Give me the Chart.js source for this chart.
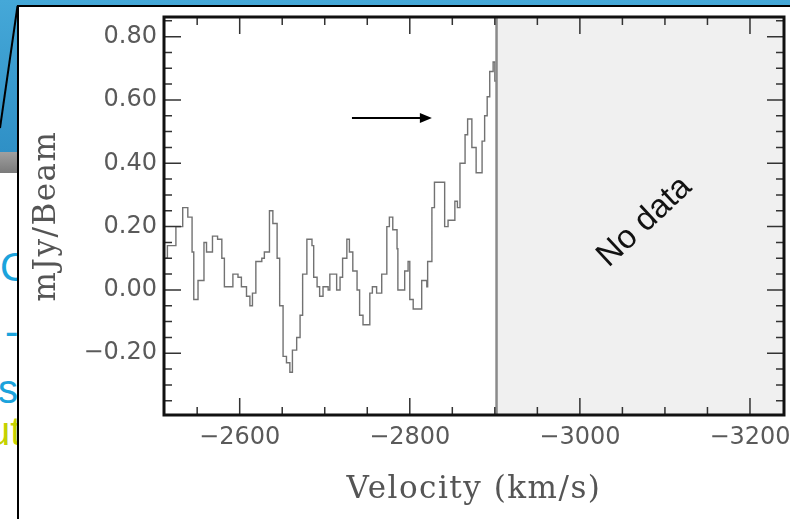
<!DOCTYPE html>
<html><head><meta charset="utf-8">
<script src="https://cdn.jsdelivr.net/npm/chart.js@4.4.1/dist/chart.umd.min.js"></script>
<style>
html,body{margin:0;padding:0;background:#fff;overflow:hidden;}
#stage{position:relative;width:790px;height:519px;overflow:hidden;background:#fff;}
#blue{position:absolute;left:0;top:0;width:790px;height:152px;background:linear-gradient(#45a8d8,#2f90c6);}
#grayband{position:absolute;left:0;top:152px;width:20px;height:21px;background:linear-gradient(#a0a0a0,#7a7a7a);}
#frag{position:absolute;left:0;top:0;width:17px;height:519px;overflow:hidden;font-family:'Liberation Sans',Arial,sans-serif;}
.frag{position:absolute;white-space:nowrap;font-size:40px;line-height:1;}
#box{position:absolute;left:17px;top:5px;width:800px;height:530px;background:#fff;border-left:2px solid #000;border-top:2px solid #000;}
svg{position:absolute;left:0;top:0;}
canvas{position:absolute;left:0;top:0;}
</style></head>
<body>
<div id="stage">
  <div id="blue"></div>
  <div id="grayband"></div>
  <div id="frag">
    <span class="frag" style="left:0px;top:247px;color:#1ba3dc">Co</span>
    <span class="frag" style="left:5px;top:311px;color:#1ba3dc">-</span>
    <span class="frag" style="left:-2px;top:369px;color:#1ba3dc">se</span>
    <span class="frag" style="left:-12px;top:411px;color:#c5d200">ut</span>
  </div>
  <div id="box"></div>
  <svg width="40" height="140"><line x1="17.5" y1="6" x2="0" y2="128" stroke="#000" stroke-width="2"/></svg>
  <canvas id="c" width="790" height="519"></canvas>
</div>
<script>
// ---- data ----
const velocity = [-2513,-2515,-2525,-2533,-2539,-2544,-2546,-2551,-2558,-2561,-2568,-2574,-2579,-2582,-2592,-2598,
  -2602,-2608,-2612,-2615,-2619,-2626,-2629,-2635,-2639,-2644,-2647,-2651,-2655,-2659,-2662,-2667,-2671,-2674,-2679,
  -2685,-2687,-2691,-2694,-2698,-2704,-2706,-2714,-2718,-2721,-2726,-2729,-2733,-2738,-2741,-2745,-2753,-2756,-2761,
  -2767,-2773,-2776,-2780,-2785,-2786,-2794,-2798,-2800,-2804,-2814,-2820,-2821,-2826,-2829,-2841,-2845,-2853,-2856,
  -2859,-2865,-2868,-2873,-2878,-2885,-2888,-2891,-2894,-2898,-2900,-2902];
const flux = [0.10,0.14,0.20,0.26,0.23,0.12,-0.03,0.03,0.15,0.12,0.17,0.16,0.10,0.01,0.05,0.04,
  0.01,-0.02,-0.05,-0.01,0.09,0.10,0.12,0.25,0.21,0.10,-0.05,-0.21,-0.23,-0.26,-0.19,-0.15,-0.08,0.05,0.16,
  0.14,0.04,0.01,-0.02,0.01,0.00,0.05,0.00,0.04,0.10,0.16,0.12,0.06,0.00,-0.08,-0.11,-0.01,0.01,-0.01,
  0.05,0.20,0.23,0.19,0.13,0.00,0.06,0.09,-0.03,-0.06,0.03,0.01,0.09,0.26,0.34,0.20,0.22,0.28,0.26,
  0.40,0.49,0.54,0.45,0.37,0.47,0.55,0.61,0.69,0.72,0.66,0.66];
const xTickValues = [-2600,-2800,-3000,-3200];
const yTickValues = [-0.2,0,0.2,0.4,0.6,0.8];
const xTitle = 'Velocity (km/s)';
const yTitle = 'mJy/Beam';
const noDataText = 'No data';
const dataEdge = -2902;            // end of the observed band
const noDataAt = {v:-3076, f:0.215};
const arrowAnn = {from:-2732, to:-2826, f:0.543};

const fmtMinus = (v, d) => (v < 0 ? '\u2212' : '') + Math.abs(v).toFixed(d);

// axis titles of the original are widely spaced
const origDrawTitle = Chart.Scale.prototype.drawTitle;
Chart.Scale.prototype.drawTitle = function(){
  const c = this.ctx; const prev = c.letterSpacing;
  c.letterSpacing = '1.5px';
  origDrawTitle.apply(this, arguments);
  c.letterSpacing = prev;
};

const decor = {
  id:'decor',
  beforeDraw(chart){ chart.ctx.letterSpacing = '0px'; },
  beforeDatasetsDraw(chart){
    const {ctx, chartArea:a, scales:{x}} = chart;
    const xe = x.getPixelForValue(dataEdge);
    ctx.save();
    ctx.fillStyle = '#f0f0f0';
    ctx.fillRect(xe, a.top, a.right - xe, a.bottom - a.top);
    ctx.restore();
  },
  afterDatasetsDraw(chart){
    const {ctx, chartArea:a, scales:{x, y}} = chart;
    ctx.save();
    const xe = x.getPixelForValue(dataEdge);
    ctx.strokeStyle = '#8a8a8a'; ctx.lineWidth = 2.5;
    ctx.beginPath(); ctx.moveTo(xe, a.top); ctx.lineTo(xe, a.bottom); ctx.stroke();
    ctx.strokeStyle = '#333'; ctx.lineWidth = 1.5;
    for (let v = -2550; v >= -3200; v -= 50) {
      const px = x.getPixelForValue(v);
      const len = (v % 200 === 0) ? 17 : 8;
      ctx.beginPath();
      ctx.moveTo(px, a.top); ctx.lineTo(px, a.top + len);
      ctx.moveTo(px, a.bottom); ctx.lineTo(px, a.bottom - len);
      ctx.stroke();
    }
    for (let k = -7; k <= 17; k++) {
      const v = k * 0.05;
      const py = y.getPixelForValue(v);
      if (py < a.top + 1 || py > a.bottom - 1) continue;
      const len = (k % 4 === 0) ? 17 : 8;
      ctx.beginPath();
      ctx.moveTo(a.left, py); ctx.lineTo(a.left + len, py);
      ctx.moveTo(a.right, py); ctx.lineTo(a.right - len, py);
      ctx.stroke();
    }
    ctx.strokeStyle = '#111'; ctx.lineWidth = 3;
    ctx.strokeRect(a.left, a.top, a.right - a.left, a.bottom - a.top);
    const ax0 = x.getPixelForValue(arrowAnn.from), ax1 = x.getPixelForValue(arrowAnn.to), ay = y.getPixelForValue(arrowAnn.f);
    ctx.strokeStyle = '#000'; ctx.fillStyle = '#000'; ctx.lineWidth = 2;
    ctx.beginPath(); ctx.moveTo(ax0, ay); ctx.lineTo(ax1 - 8, ay); ctx.stroke();
    ctx.beginPath(); ctx.moveTo(ax1, ay); ctx.lineTo(ax1 - 12, ay - 5); ctx.lineTo(ax1 - 12, ay + 5); ctx.closePath(); ctx.fill();
    ctx.letterSpacing = '0px';
    ctx.translate(x.getPixelForValue(noDataAt.v), y.getPixelForValue(noDataAt.f));
    ctx.rotate(-43 * Math.PI / 180);
    ctx.font = '33px "Liberation Sans", Arial, sans-serif';
    ctx.textAlign = 'center'; ctx.textBaseline = 'middle';
    ctx.fillStyle = '#111';
    ctx.fillText(noDataText, 0, 0);
    ctx.restore();
  }
};

new Chart(document.getElementById('c'), {
  type:'line',
  data:{ datasets:[{
    data: velocity.map((v,i)=>({x:v, y:flux[i]})),
    stepped:'before',
    borderColor:'#727272', borderWidth:1.4, pointRadius:0, fill:false
  }]},
  options:{
    responsive:false, animation:false, devicePixelRatio:1,
    layout:{padding:{left:0, right:6, top:17, bottom:0}},
    plugins:{legend:{display:false}, tooltip:{enabled:false}},
    scales:{
      x:{
        type:'linear', reverse:true, min:-3240, max:-2511,
        afterBuildTicks(s){ s.ticks = xTickValues.map(v=>({value:v})); },
        afterFit(s){ s.height = 104; s.paddingLeft = 0; s.paddingRight = 0; },
        grid:{display:false, drawTicks:false}, border:{display:false},
        ticks:{ autoSkip:false, maxRotation:0, padding:8, color:'#5a5a5a',
          font:{family:'DejaVu Sans', size:24},
          callback:(v)=>fmtMinus(v,0) },
        title:{ display:true, text:xTitle, color:'#555',
          font:{family:'DejaVu Serif', size:31}, padding:{top:0,bottom:10} }
      },
      y:{
        type:'linear', min:-0.395, max:0.862,
        afterBuildTicks(s){ s.ticks = yTickValues.map(v=>({value:v})); },
        afterFit(s){ s.width = 164; s.paddingTop = 0; s.paddingBottom = 0; },
        grid:{display:false, drawTicks:false}, border:{display:false},
        ticks:{ autoSkip:false, padding:7, color:'#5a5a5a',
          font:{family:'DejaVu Sans', size:24},
          callback:(v)=>fmtMinus(v,2) },
        title:{ display:true, text:yTitle, color:'#555',
          font:{family:'DejaVu Serif', size:31}, padding:{top:28,bottom:0} }
      }
    }
  },
  plugins:[decor]
});
</script>
</body></html>
